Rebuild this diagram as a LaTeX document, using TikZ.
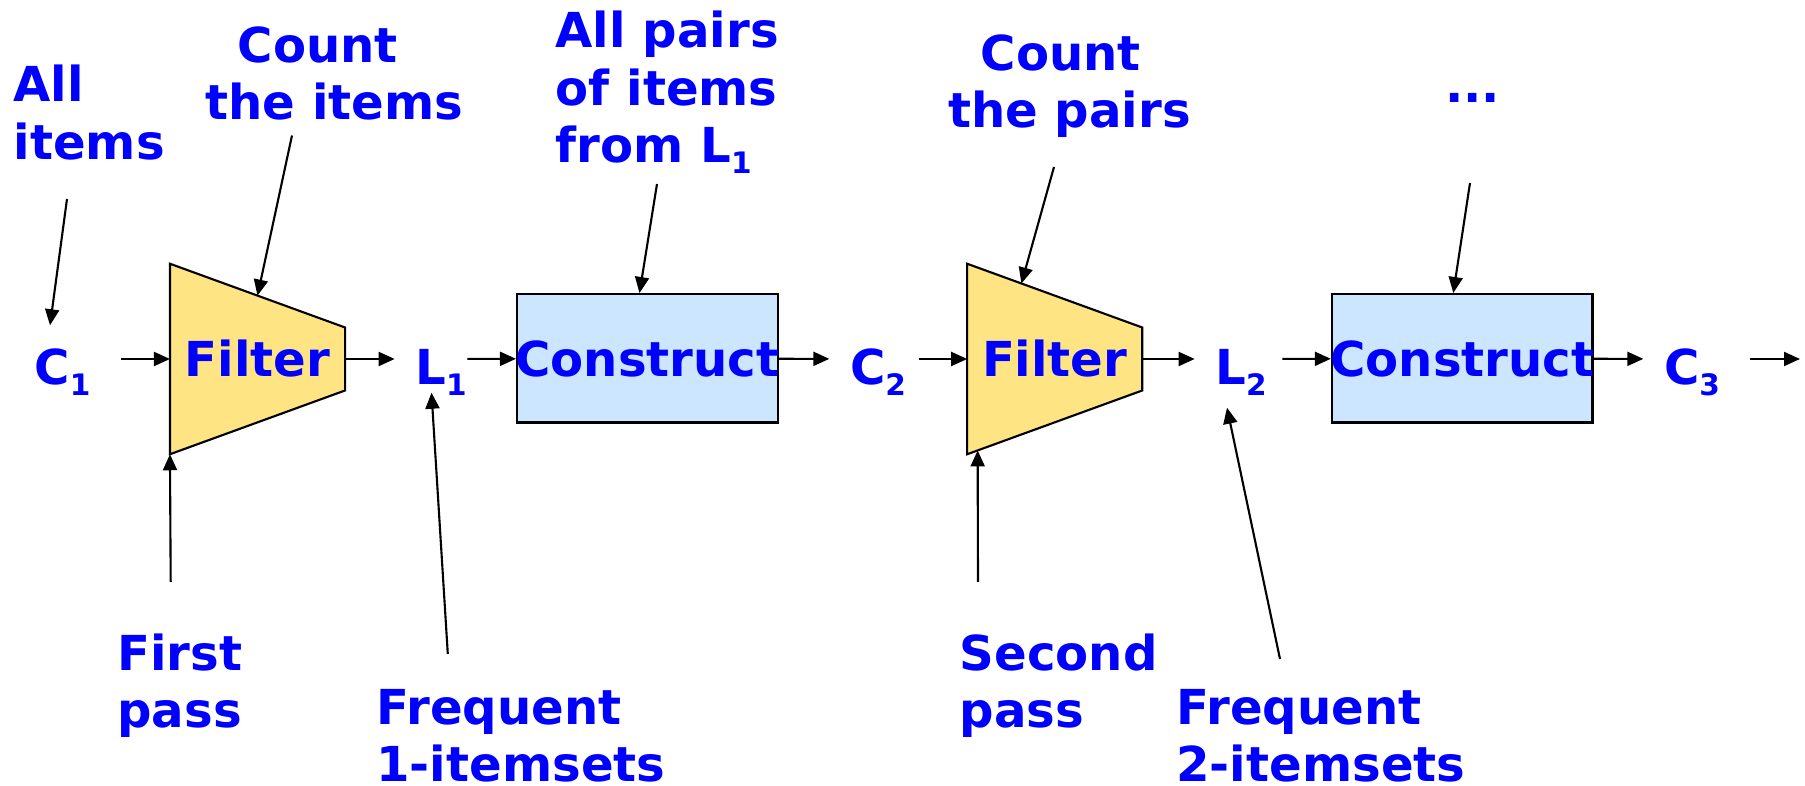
\documentclass[tikz,border=0pt]{standalone}
\usepackage{fontspec}
\setmainfont{DejaVu Sans}
\usetikzlibrary{arrows.meta,calc,backgrounds}

\definecolor{labelblue}{RGB}{0,0,255}
\definecolor{filterfill}{RGB}{255,228,132}
\definecolor{buildfill}{RGB}{204,230,255}

\newcommand\idx[1]{\raisebox{-3pt}{\fontsize{8.4}{8.4}\selectfont#1}}

\tikzset{
  lbl/.style={text=labelblue, font=\bfseries\fontsize{13.7}{16.4}\selectfont, inner sep=0pt},
  setname/.style={lbl, inner xsep=0.2cm, text height=0.51cm, text depth=0cm},
  note/.style={lbl, anchor=base west, align=left},
  filterbox/.style={lbl, minimum width=1.736cm, minimum height=1.89cm},
  filterbody/.style={draw=black, fill=filterfill, line width=0.6pt},
  buildbox/.style={lbl, draw=black, fill=buildfill, line width=0.7pt,
    minimum width=2.604cm, minimum height=1.284cm},
  flow/.style={-{Triangle[length=0.16cm,width=0.14cm]}, line width=0.6pt},
}

\begin{document}
\begin{tikzpicture}[x=0.01cm, y=-0.01cm]
  \useasboundingbox (0,0) rectangle (1805,786);

  % main chain
  \node[setname] (c1) at (62.5,359) {C\idx{1}};
  \node[filterbox] (f1) at (257.5,359) {Filter};
  \node[setname] (l1) at (441,359) {L\idx{1}};
  \node[buildbox] (k1) at (647.5,358.5) {\makebox[0pt]{Construct}};
  \node[setname] (c2) at (878,359) {C\idx{2}};
  \node[filterbox] (f2) at (1054.7,359) {Filter};
  \node[setname] (l2) at (1241,359) {L\idx{2}};
  \node[buildbox] (k2) at (1462.3,358.5) {\makebox[0pt]{Construct}};
  \node[setname] (c3) at (1692,359) {C\idx{3}};
  \coordinate (out) at (1800,359);

  % filter bodies
  \begin{scope}[on background layer]
    \foreach \f in {f1,f2} {
      \coordinate (\f-ne) at ($(\f.east)+(0,-31.5)$);
      \coordinate (\f-se) at ($(\f.east)+(0,31.5)$);
      \draw[filterbody] (\f.north west) -- (\f-ne) -- (\f-se) -- (\f.south west) -- cycle;
    }
  \end{scope}

  \draw[flow, shorten <=0.1cm] (c1) -- (f1);
  \draw[flow] (f1) -- (l1);
  \draw[flow, shorten <=-0.2cm] (l1) -- (k1);
  \draw[flow] (k1) -- (c2);
  \draw[flow, shorten <=-0.075cm] (c2) -- (f2);
  \draw[flow] (f2) -- (l2);
  \draw[flow, shorten <=-0.05cm] (l2) -- (k2);
  \draw[flow] (k2) -- (c3);
  \draw[flow, shorten <=0.09cm] (c3) -- (out);

  % notes above (base = last line)
  \node[note] (allitems) at (13,159.3) {All\\items};
  \node[note, align=center, anchor=base] (countitems) at (334.4,120) {Count\hspace*{0.33cm}\\the items};
  \node[note] (allpairs) at (555,163) {All pairs\\of items\\from L\idx{1}};
  \node[note, align=center, anchor=base] (countpairs) at (1069.4,127.7) {Count\hspace*{0.17cm}\\the pairs};
  \node[note] (more) at (1444.5,103) {...};

  % notes below
  \node[note] (firstpass) at (116.7,728) {First\\pass};
  \node[note] (freq1) at (375.7,781.7) {Frequent\\1-itemsets};
  \node[note] (secondpass) at (959,728) {Second\\pass};
  \node[note] (freq2) at (1175.7,781.7) {Frequent\\2-itemsets};

  % arrow tails
  \coordinate (allitems-tail) at (67,199);
  \coordinate (countitems-tail) at (292,135.5);
  \coordinate (allpairs-tail) at (657,184);
  \coordinate (countpairs-tail) at (1054,167);
  \coordinate (more-tail) at (1470,183);
  \coordinate (firstpass-tail) at (170.7,582);
  \coordinate (freq1-tail) at (447.8,654);
  \coordinate (secondpass-tail) at (978,582);
  \coordinate (freq2-tail) at (1280,659);

  \draw[flow] (allitems-tail) -- ($(c1.north)+(-12.5,-7.5)$);
  \draw[flow] (countitems-tail) -- ($(f1.north west)!0.5!(f1-ne)$);
  \draw[flow] (allpairs-tail) -- ([xshift=-0.08cm]k1.north);
  \draw[flow] (countpairs-tail) -- ($(f2.north west)!0.31!(f2-ne)$);
  \draw[flow] (more-tail) -- ([xshift=-0.09cm]k2.north);
  \draw[flow] (firstpass-tail) -- (f1.south west);
  \draw[flow] (freq1-tail) -- ($(l1.south)+(-9.5,7.5)$);
  \draw[flow] (secondpass-tail) -- ($(f2.south west)!0.06!(f2-se)$);
  \draw[flow] (freq2-tail) -- ($(l2.south)+(-14,22.5)$);
\end{tikzpicture}
\end{document}
